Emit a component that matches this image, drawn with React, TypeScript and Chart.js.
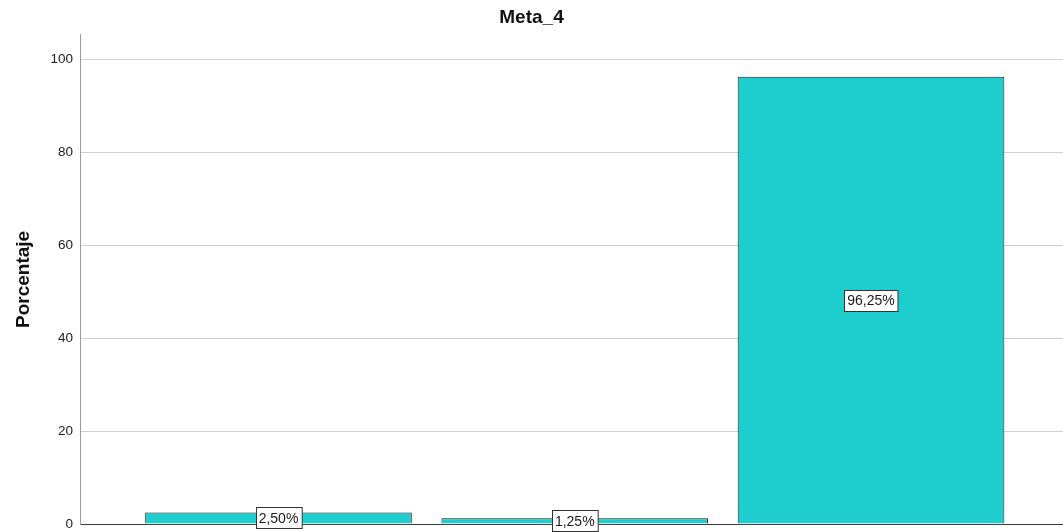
import React, { useEffect, useRef } from "react";
import { Chart, registerables } from "chart.js";

Chart.register(...registerables);

const chartTitle = "Meta_4";
const yAxisTitle = "Porcentaje";
const categories = ["1", "2", "3"];
const categoryPositions = [1, 2, 3];
const percentValues = [2.5, 1.25, 96.25];
const valueLabels = ["2,50%", "1,25%", "96,25%"];
const yTickValues = [0, 20, 40, 60, 80, 100];

const FONT = "'Liberation Sans', Arial, Helvetica, sans-serif";

const barLabelPlugin = {
  id: "barLabels",
  afterDatasetsDraw(chart: any) {
    const ctx = chart.ctx;
    const meta = chart.getDatasetMeta(0);
    ctx.save();
    ctx.font = `14px ${FONT}`;
    ctx.textAlign = "center";
    ctx.textBaseline = "middle";
    meta.data.forEach((bar: any, i: number) => {
      const text = valueLabels[i];
      const cx = bar.x;
      const cy = (bar.y + bar.base) / 2;
      const w = ctx.measureText(text).width + 6;
      const h = 21;
      const left = Math.round(cx - w / 2) + 0.5;
      const top = Math.round(cy - h / 2) + 0.5;
      ctx.fillStyle = "#ffffff";
      ctx.fillRect(left, top, w, h);
      ctx.strokeStyle = "#333333";
      ctx.lineWidth = 1;
      ctx.strokeRect(left, top, w, h);
      ctx.fillStyle = "#1a1a1a";
      ctx.fillText(text, cx, cy + 1);
    });
    ctx.restore();
  },
};

export default function App() {
  const canvasRef = useRef<HTMLCanvasElement | null>(null);

  useEffect(() => {
    document.body.style.margin = "0";
    const canvas = canvasRef.current;
    if (!canvas) return;
    const chart = new Chart(canvas, {
      type: "bar",
      data: {
        labels: categories,
        datasets: [
          {
            data: categoryPositions.map((x, i) => ({ x, y: percentValues[i] })),
            backgroundColor: "#1ECECE",
            borderColor: "#1f1f1f",
            borderWidth: 1,
            barPercentage: 0.9,
            categoryPercentage: 1.0,
          },
        ],
      },
      options: {
        animation: false,
        responsive: false,
        devicePixelRatio: 1,
        layout: { padding: { top: 0, left: 0, right: 0, bottom: 8 } },
        plugins: {
          legend: { display: false },
          tooltip: { enabled: false },
          title: {
            display: true,
            text: chartTitle,
            color: "#111111",
            font: { family: FONT, size: 19, weight: "bold" },
            padding: { top: 6, bottom: 6 },
          },
        },
        scales: {
          x: {
            type: "linear",
            min: 0.33,
            max: 3.648,
            offset: false,
            afterBuildTicks: (scale: any) => {
              scale.ticks = categoryPositions.map((v) => ({ value: v }));
            },
            afterFit: (scale: any) => {
              scale.height = 0;
              scale.paddingLeft = 0;
              scale.paddingRight = 0;
            },
            ticks: { display: false },
            grid: { display: false },
            border: { display: true, color: "#3a3a3a", width: 1 },
          },
          y: {
            min: 0,
            max: 105.3,
            afterBuildTicks: (scale: any) => {
              scale.ticks = yTickValues.map((v) => ({ value: v }));
            },
            afterFit: (scale: any) => {
              scale.width = 80;
              scale.paddingTop = 0;
              scale.paddingBottom = 0;
            },
            ticks: {
              color: "#222222",
              font: { family: FONT, size: 13.5 },
              padding: 7,
            },
            grid: {
              color: "#cfcfcf",
              drawTicks: false,
            },
            border: { display: true, color: "#9a9a9a", width: 1 },
            title: {
              display: true,
              text: yAxisTitle,
              color: "#111111",
              font: { family: FONT, size: 19, weight: "bold" },
              padding: { top: 12, bottom: 0 },
            },
          },
        },
      },
      plugins: [barLabelPlugin],
    });
    return () => chart.destroy();
  }, []);

  return (
    <div style={{ width: 1063, height: 532 }}>
      <canvas ref={canvasRef} width={1063} height={532} />
    </div>
  );
}
